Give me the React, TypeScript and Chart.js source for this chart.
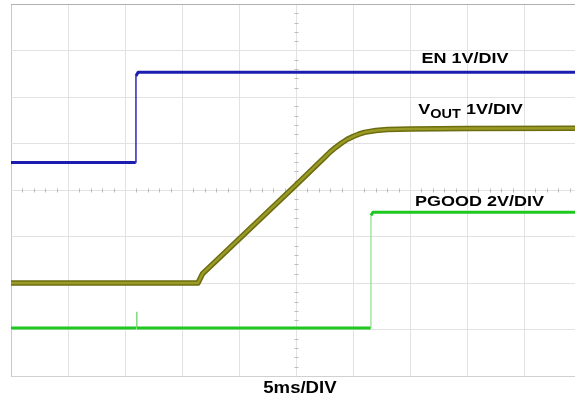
import React, { useEffect, useRef } from "react";
import { Chart, registerables } from "chart.js";

Chart.register(...registerables);

// time axis in ms (5 ms/DIV), vertical values in divisions
const enTime = [0, 10.94, 10.96, 11.15, 49.6];
const enLevel = [4.59, 4.59, 6.45, 6.53, 6.53];

const voutTime = [0, 16.4, 16.8, 25, 27.5, 28, 28.5, 29, 29.5, 30, 30.5, 31, 32, 33, 35, 40, 49.6];
const voutLevel = [2.0, 2.0, 2.2, 4.11, 4.7, 4.82, 4.92, 5.01, 5.09, 5.15, 5.2, 5.24, 5.28, 5.3, 5.31, 5.32, 5.33];

const pgTime = [0, 11.0, 11.02, 11.05, 31.55, 31.57, 31.75, 49.6];
const pgLevel = [1.03, 1.03, 1.38, 1.03, 1.03, 3.45, 3.52, 3.52];

const timeMax = 49.47;
const divCount = 8;

const labelEN = "EN 1V/DIV";
const labelVoutMain = "V";
const labelVoutSub = "OUT";
const labelVoutRest = " 1V/DIV";
const labelPG = "PGOOD 2V/DIV";
const labelTime = "5ms/DIV";

const pts = (xs: number[], ys: number[]) => xs.map((x, i) => ({ x, y: ys[i] }));

const thinSeg = (thick: number, thin: number) => (c: any) =>
  Math.abs(c.p1.x - c.p0.x) < 1.2 ? thin : thick;

const FONT = '"Liberation Sans", Arial, sans-serif';

function txt(ctx: CanvasRenderingContext2D, s: string, x: number, y: number, size: number, sx = 1.16) {
  ctx.save();
  ctx.font = `bold ${size}px ${FONT}`;
  ctx.translate(x, y);
  ctx.scale(sx, 1);
  ctx.fillText(s, 0, 0);
  const w = ctx.measureText(s).width * sx;
  ctx.restore();
  return w;
}

const scopePlugin = {
  id: "scope",
  beforeDatasetsDraw(chart: any) {
    const ctx: CanvasRenderingContext2D = chart.ctx;
    const xs = chart.scales.x;
    const ys = chart.scales.y;
    const cx = Math.round(xs.getPixelForValue(25)) + 0.5;
    const cy = Math.round(ys.getPixelForValue(4)) + 0.5;
    ctx.save();
    ctx.strokeStyle = "#bcbcbc";
    ctx.lineWidth = 1;
    ctx.beginPath();
    for (let t = 0; t <= timeMax; t += 1) {
      if (t % 5 === 0) continue;
      const px = Math.round(xs.getPixelForValue(t)) + 0.5;
      ctx.moveTo(px, cy - 2);
      ctx.lineTo(px, cy + 2);
    }
    for (let d = 0; d <= divCount; d += 0.2) {
      if (Math.abs(d - Math.round(d)) < 0.01) continue;
      const py = Math.round(ys.getPixelForValue(d)) + 0.5;
      ctx.moveTo(cx - 2, py);
      ctx.lineTo(cx + 2, py);
    }
    ctx.stroke();
    ctx.restore();
  },
  afterDraw(chart: any) {
    const ctx: CanvasRenderingContext2D = chart.ctx;
    ctx.save();
    ctx.fillStyle = "#000";
    ctx.textBaseline = "alphabetic";
    txt(ctx, labelEN, 421.5, 62.5, 15.5);
    let x = 418.3;
    x += txt(ctx, labelVoutMain, x, 113.5, 15.5);
    x += txt(ctx, labelVoutSub, x, 117.5, 12.5);
    txt(ctx, labelVoutRest, x, 113.5, 15.5);
    txt(ctx, labelPG, 415, 205.5, 15.5);
    txt(ctx, labelTime, 263.3, 393, 16);
    ctx.restore();
  },
};

export default function App() {
  const ref = useRef<HTMLCanvasElement>(null);
  useEffect(() => {
    if (!ref.current) return;
    const chart = new Chart(ref.current, {
      type: "line",
      data: {
        datasets: [
          {
            label: "EN",
            data: pts(enTime, enLevel),
            borderColor: "#1c1cae",
            borderWidth: 3,
            pointRadius: 0,
            segment: { borderWidth: thinSeg(3, 1.4) },
          },
          {
            label: "VOUT",
            data: pts(voutTime, voutLevel),
            borderColor: "#9a9a26",
            borderWidth: 2.5,
            pointRadius: 0,
          },
          {
            label: "VOUT edge",
            data: pts(voutTime, voutLevel),
            borderColor: "#6c6c10",
            borderWidth: 5.5,
            pointRadius: 0,
          },
          {
            label: "PGOOD",
            data: pts(pgTime, pgLevel),
            borderColor: "#1fc81f",
            borderWidth: 3,
            pointRadius: 0,
            segment: {
              borderWidth: thinSeg(3, 1),
              borderColor: (c: any) => (Math.abs(c.p1.x - c.p0.x) < 1.2 ? "#7ad87a" : "#1fc81f"),
            },
          },
        ],
      },
      options: {
        animation: false,
        responsive: false,
        events: [],
        layout: { padding: { left: 11, top: 4, right: 0, bottom: 24 } },
        plugins: { legend: { display: false }, tooltip: { enabled: false } },
        elements: { line: { tension: 0, borderJoinStyle: "round", borderCapStyle: "butt" } },
        scales: {
          x: {
            type: "linear",
            min: 0,
            max: timeMax,
            ticks: { display: false, stepSize: 5, includeBounds: false },
            grid: {
              drawTicks: false,
              color: (c: any) => (c.tick && c.tick.value === 0 ? "#c8c8c8" : "#e2e2e2"),
            },
            border: { display: false },
          },
          y: {
            type: "linear",
            min: 0,
            max: divCount,
            ticks: { display: false, stepSize: 1 },
            grid: {
              drawTicks: false,
              color: (c: any) =>
                c.tick && c.tick.value === divCount ? "#b0b0b0" : c.tick && c.tick.value === 0 ? "#d0d0d0" : "#e2e2e2",
            },
            border: { display: false },
          },
        },
      },
      plugins: [scopePlugin],
    });
    return () => chart.destroy();
  }, []);
  return (
    <div style={{ position: "absolute", left: 0, top: 0, width: 575, height: 400, background: "#fff" }}>
      <canvas ref={ref} width={575} height={400} style={{ display: "block" }} />
    </div>
  );
}
